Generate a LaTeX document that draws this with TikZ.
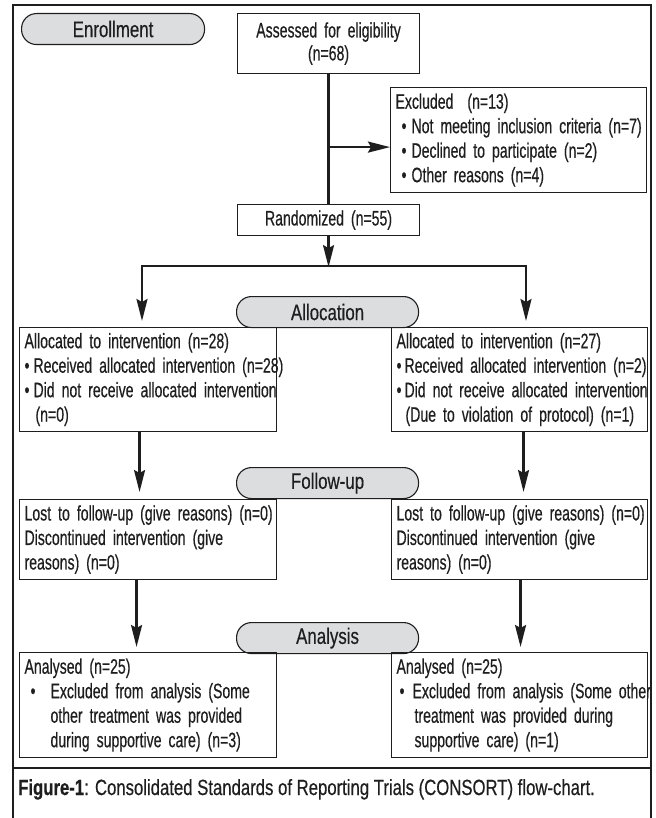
\documentclass[tikz,border=0pt]{standalone}
\usepackage{fontspec}
\setmainfont{Liberation Sans}[FakeStretch=0.67, FakeBold=0.4]
\newfontfamily\capfont{Liberation Sans}[FakeStretch=0.76, FakeBold=0.4]
\newfontfamily\pillfont{Liberation Sans}[FakeStretch=0.75, FakeBold=0.4]
\usetikzlibrary{arrows.meta,calc}
\definecolor{pillgray}{RGB}{220,221,223}
\definecolor{ink}{RGB}{30,30,30}
\newcommand{\mybul}[1]{\makebox[#1][l]{\textbullet}}
\hbadness=10000 \hfuzz=200pt
\begin{document}
\begin{tikzpicture}[x=1pt,y=-1pt,
  every node/.style={text=ink},
  box/.style={draw=ink, line width=1.1pt, inner sep=0pt, anchor=north west, align=left,
              font=\fontsize{21}{24.5}\selectfont},
  pill/.style={draw=ink, line width=1.1pt, fill=pillgray, rounded corners=15pt,
               minimum width=182pt, minimum height=31pt, inner sep=0pt, anchor=north west,
               font=\pillfont\fontsize{22.5}{24}\selectfont},
  conn/.style={draw=ink, line width=2.2pt},
  arr/.style={conn, -{Stealth[length=22pt,width=11pt,inset=3pt]}}
]
\useasboundingbox (0,0) rectangle (655,818);
\fill[white] (0,0) rectangle (655,818);
\clip (0,0) rectangle (655,818);

% outer frame and caption rule
\draw[ink, line width=1.8pt] (13,5) rectangle (651,840);
\draw[ink, line width=1.5pt] (13,768) -- (651,768);

% enrollment
\node[pill, minimum width=183pt] (enr) at (21,13) {Enrollment};
\node[box, minimum width=182pt, minimum height=60pt, text width=182pt, align=center,
      font=\fontsize{21}{23}\selectfont] (as) at (237,13) {\mbox{Assessed for eligibility}\\(n=68)};
\node[box, minimum width=256pt, minimum height=105pt, text width=246pt] (ex) at (390,87)
  {\mbox{Excluded\ \ (n=13)}\\
   \mbox{\hspace*{6pt}\mybul{10pt}Not meeting inclusion criteria (n=7)}\\
   \mbox{\hspace*{6pt}\mybul{10pt}Declined to participate (n=2)}\\
   \mbox{\hspace*{6pt}\mybul{10pt}Other reasons (n=4)}};
\node[box, minimum width=182pt, minimum height=31pt, text width=182pt, align=center] (ra) at (237,204)
  {\mbox{Randomized (n=55)}};

% allocation
\node[pill] (alp) at (236,296) {Allocation};
\node[box, minimum width=257pt, minimum height=104pt, text width=247pt] (alL) at (19,327)
  {\mbox{Allocated to intervention (n=28)}\\
   \mbox{\mybul{9pt}Received allocated intervention (n=28)}\\
   \mbox{\mybul{9pt}Did not receive allocated intervention}\\
   \mbox{\hspace*{11pt}(n=0)}};
\node[box, minimum width=256pt, minimum height=104pt, text width=246pt] (alR) at (391,327)
  {\mbox{Allocated to intervention (n=27)}\\
   \mbox{\mybul{8pt}Received allocated intervention (n=2)}\\
   \mbox{\mybul{8pt}Did not receive allocated intervention}\\
   \mbox{\hspace*{9pt}(Due to violation of protocol) (n=1)}};

% follow-up
\node[pill] (fup) at (236,467) {Follow-up};
\node[box, minimum width=257pt, minimum height=80pt, text width=247pt] (fuL) at (19,499)
  {\mbox{Lost to follow-up (give reasons) (n=0)}\\
   \mbox{Discontinued intervention (give}\\
   \mbox{reasons) (n=0)}};
\node[box, minimum width=256pt, minimum height=80pt, text width=246pt] (fuR) at (391,499)
  {\mbox{Lost to follow-up (give reasons) (n=0)}\\
   \mbox{Discontinued intervention (give}\\
   \mbox{reasons) (n=0)}};

% analysis
\node[pill] (anp) at (236,622) {Analysis};
\node[box, minimum width=257pt, minimum height=105pt, text width=247pt] (anL) at (19,652)
  {\mbox{Analysed (n=25)}\\
   \mbox{\hspace*{6pt}\mybul{20pt}Excluded from analysis (Some}\\
   \mbox{\hspace*{26pt}other treatment was provided}\\
   \mbox{\hspace*{26pt}during supportive care) (n=3)}};
\node[box, minimum width=256pt, minimum height=105pt, text width=246pt] (anR) at (391,652)
  {\mbox{Analysed (n=25)}\\
   \mbox{\hspace*{3pt}\mybul{13pt}Excluded from analysis (Some other}\\
   \mbox{\hspace*{18pt}treatment was provided during}\\
   \mbox{\hspace*{18pt}supportive care) (n=1)}};

% caption
\node[anchor=base west, inner sep=0pt, font=\capfont\fontsize{22}{25}\selectfont] (cap) at (18,795)
  {\textbf{Figure-1}: Consolidated Standards of Reporting Trials (CONSORT) flow-chart.};

% connectors
\draw[conn] (as.south) -- (ra.north);
\path (as.south) ++(0,73) coordinate (exs);
\draw[arr] (exs) -- (exs -| ex.west);
\path (ra.south) ++(0,31) coordinate (rb);
\draw[arr] (ra.south) -- (rb);
\coordinate (bl) at (142,266);
\coordinate (br) at (526,266);
\draw[arr] (br) -- (bl) -- ([yshift=6pt]bl |- alL.north);
\draw[arr] (bl) -- (br) -- ([yshift=6pt]br |- alR.north);
\draw[arr] ([xshift=-8.5pt]alL.south) -- ([xshift=-8.5pt,yshift=7pt]alL.south |- fuL.north);
\draw[arr] ([xshift=4pt]alR.south) -- ([xshift=4pt,yshift=7pt]alR.south |- fuR.north);
\draw[arr] ([xshift=-11.5pt]fuL.south) -- ([xshift=-11.5pt,yshift=5pt]fuL.south |- anL.north);
\draw[arr] ([xshift=1pt]fuR.south) -- ([xshift=1pt,yshift=5pt]fuR.south |- anR.north);
\end{tikzpicture}
\end{document}
